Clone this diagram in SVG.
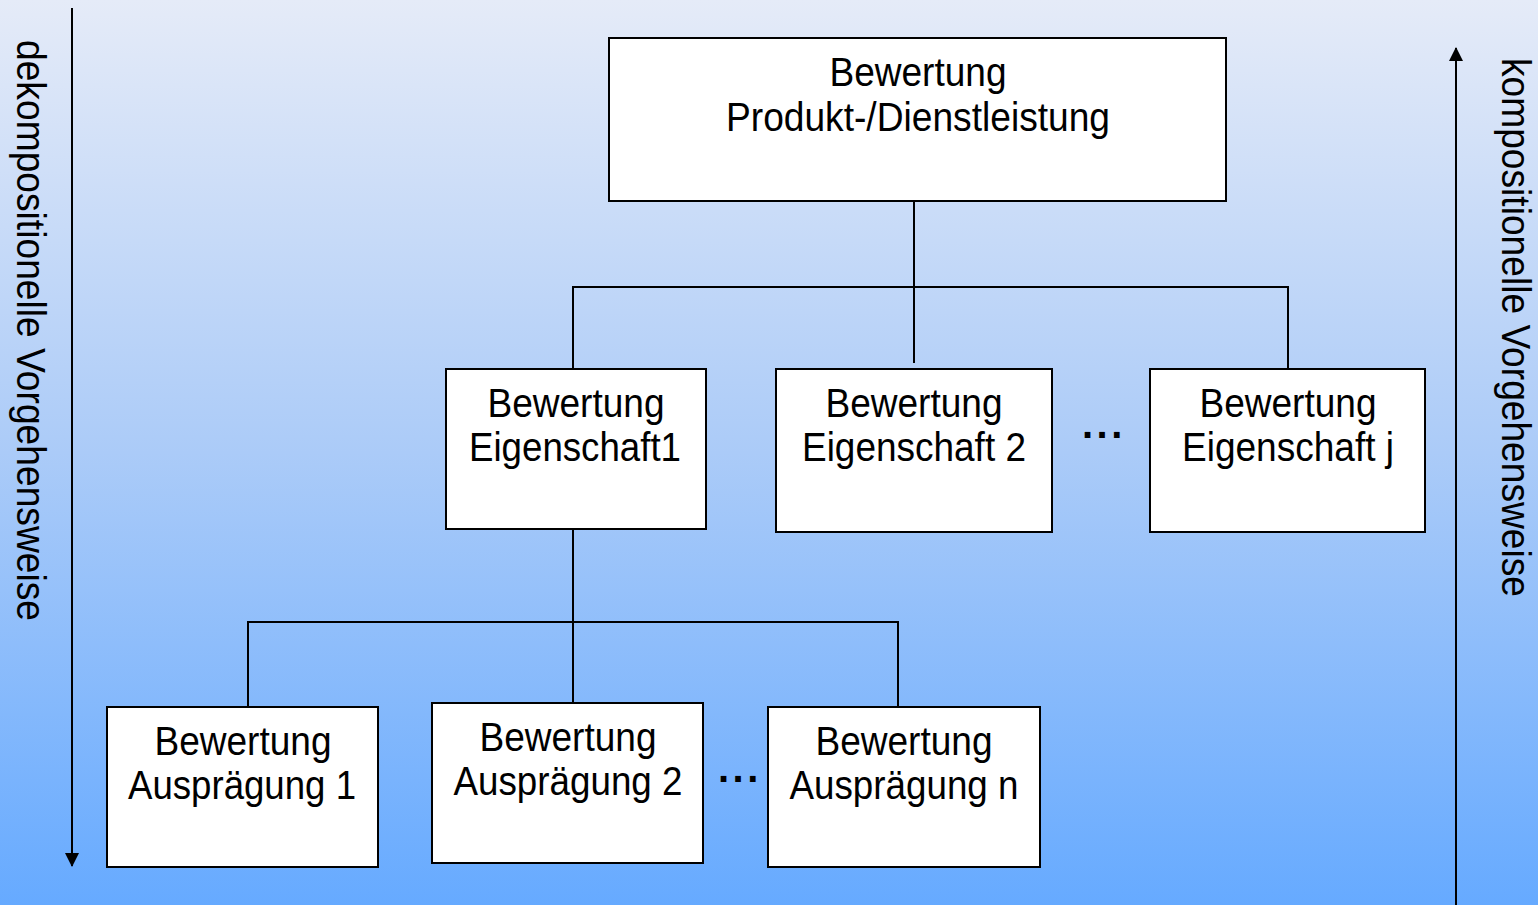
<svg xmlns="http://www.w3.org/2000/svg" width="1538" height="905" viewBox="0 0 1538 905">
  <defs>
    <linearGradient id="bg" x1="0" y1="0" x2="0" y2="1">
      <stop offset="0" stop-color="#e5ebf8"/>
      <stop offset="0.5" stop-color="#abcbf8"/>
      <stop offset="1" stop-color="#66aaff"/>
    </linearGradient>
    <marker id="arr" viewBox="0 0 14 15" refX="13" refY="7" markerWidth="14" markerHeight="15" markerUnits="userSpaceOnUse" orient="auto">
      <path d="M0,0 L14,7 L0,14 Z" fill="#000"/>
    </marker>
    <style>
      .box { fill: #fff; stroke: #000; stroke-width: 2; }
      .t { font-family: "Liberation Sans", Arial, sans-serif; font-size: 40px; fill: #000; text-anchor: middle; }
      .side { font-family: "Liberation Sans", Arial, sans-serif; font-size: 40px; fill: #000; }
      .dots { font-family: "Liberation Sans", Arial, sans-serif; font-size: 40px; font-weight: bold; letter-spacing: 3.5px; fill: #000; }
      .con { fill: none; stroke: #000; stroke-width: 2; }
      .axis { fill: none; stroke: #000; stroke-width: 2; }
    </style>
  </defs>

  <rect x="0" y="0" width="1538" height="905" fill="url(#bg)"/>

  <g id="axes">
    <line class="axis" x1="72" y1="8" x2="72" y2="866" marker-end="url(#arr)"/>
    <text class="side" transform="translate(17,40) rotate(90)" textLength="581" lengthAdjust="spacingAndGlyphs">dekompositionelle Vorgehensweise</text>
    <line class="axis" x1="1456" y1="905" x2="1456" y2="48" marker-end="url(#arr)"/>
    <text class="side" transform="translate(1502,58) rotate(90)" textLength="539" lengthAdjust="spacingAndGlyphs">kompositionelle Vorgehensweise</text>
  </g>

  <g id="connectors">
    <polyline class="con" points="914,201 914,363"/>
    <polyline class="con" points="573,369 573,287 1288,287 1288,369"/>
    <polyline class="con" points="573,529 573,703"/>
    <polyline class="con" points="248,707 248,622 898,622 898,707"/>
  </g>

  <g id="n-top">
    <rect class="box" x="609" y="38" width="617" height="163"/>
    <text class="t" x="918" y="86" textLength="177" lengthAdjust="spacingAndGlyphs">Bewertung</text>
    <text class="t" x="918" y="131" textLength="384" lengthAdjust="spacingAndGlyphs">Produkt-/Dienstleistung</text>
  </g>

  <g id="n-eig1">
    <rect class="box" x="446" y="369" width="260" height="160"/>
    <text class="t" x="576" y="417" textLength="177" lengthAdjust="spacingAndGlyphs">Bewertung</text>
    <text class="t" x="575" y="461" textLength="212" lengthAdjust="spacingAndGlyphs">Eigenschaft1</text>
  </g>

  <g id="n-eig2">
    <rect class="box" x="776" y="369" width="276" height="163"/>
    <text class="t" x="914" y="417" textLength="177" lengthAdjust="spacingAndGlyphs">Bewertung</text>
    <text class="t" x="914" y="461" textLength="224" lengthAdjust="spacingAndGlyphs">Eigenschaft 2</text>
  </g>

  <g id="dots-eig">
    <text class="dots" x="1082" y="438">...</text>
  </g>

  <g id="n-eigj">
    <rect class="box" x="1150" y="369" width="275" height="163"/>
    <text class="t" x="1288" y="417" textLength="177" lengthAdjust="spacingAndGlyphs">Bewertung</text>
    <text class="t" x="1288" y="461" textLength="212" lengthAdjust="spacingAndGlyphs">Eigenschaft j</text>
  </g>

  <g id="n-aus1">
    <rect class="box" x="107" y="707" width="271" height="160"/>
    <text class="t" x="243" y="755" textLength="177" lengthAdjust="spacingAndGlyphs">Bewertung</text>
    <text class="t" x="242" y="799" textLength="228" lengthAdjust="spacingAndGlyphs">Ausprägung 1</text>
  </g>

  <g id="n-aus2">
    <rect class="box" x="432" y="703" width="271" height="160"/>
    <text class="t" x="568" y="751" textLength="177" lengthAdjust="spacingAndGlyphs">Bewertung</text>
    <text class="t" x="568" y="795" textLength="229" lengthAdjust="spacingAndGlyphs">Ausprägung 2</text>
  </g>

  <g id="dots-aus">
    <text class="dots" x="718" y="782">...</text>
  </g>

  <g id="n-ausn">
    <rect class="box" x="768" y="707" width="272" height="160"/>
    <text class="t" x="904" y="755" textLength="177" lengthAdjust="spacingAndGlyphs">Bewertung</text>
    <text class="t" x="904" y="799" textLength="229" lengthAdjust="spacingAndGlyphs">Ausprägung n</text>
  </g>
</svg>
